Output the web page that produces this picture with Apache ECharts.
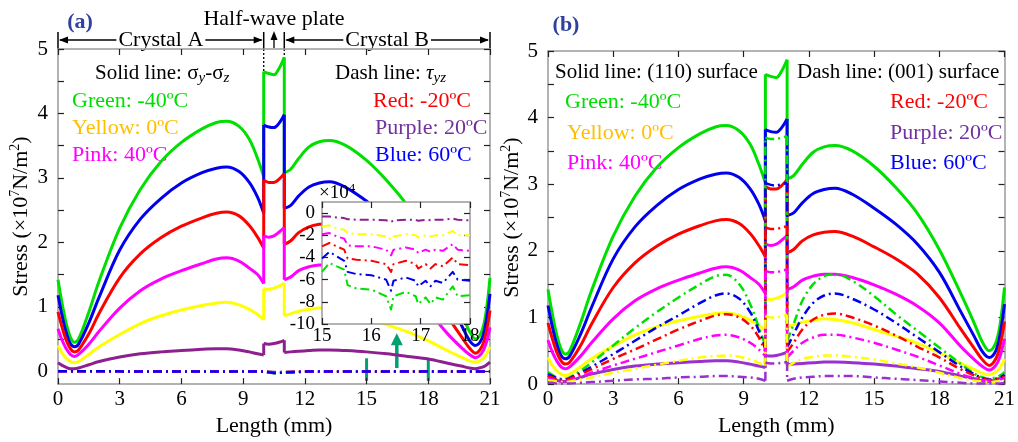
<!DOCTYPE html>
<html><head><meta charset="utf-8">
<script src="https://cdn.jsdelivr.net/npm/echarts@6/dist/echarts.min.js"></script>
<style>html,body{margin:0;padding:0;background:#fff}#c{width:1018px;height:442px}</style>
</head><body><div id="c"></div>
<script>
// ---------- DATA ----------
const X = [0,0.2,0.4,0.6,0.8,1.0,1.5,2,3,4,5,6,7,7.7,8.2,8.8,9.3,9.7,10, 10,10.25,10.5,10.75,11, 11,11.3,11.7,12.2,12.7,13.2,14,15,16,17,18,19,19.6,20.0,20.3,20.6,20.8,21];
// solid lines (sigma_y - sigma_z / (110) surface), x10^7 N/m^2
const sGreen  = [1.42,1.05,0.74,0.53,0.45,0.5,0.92,1.4,2.22,2.82,3.25,3.55,3.76,3.86,3.88,3.8,3.6,3.3,3.02, 4.65,4.62,4.6,4.7,4.87, 3.08,3.13,3.3,3.48,3.56,3.58,3.5,3.27,2.95,2.56,2.02,1.35,0.92,0.62,0.5,0.62,0.9,1.45];
const sBlue   = [1.18,0.86,0.6,0.43,0.38,0.42,0.75,1.15,1.88,2.36,2.68,2.92,3.08,3.15,3.17,3.1,2.93,2.7,2.45, 3.82,3.79,3.78,3.85,3.98, 2.53,2.57,2.72,2.86,2.92,2.94,2.85,2.64,2.4,2.1,1.68,1.08,0.72,0.48,0.4,0.5,0.75,1.2];
const sRed    = [0.92,0.68,0.48,0.35,0.3,0.33,0.58,0.9,1.45,1.82,2.07,2.25,2.38,2.45,2.47,2.41,2.26,2.08,1.91, 2.97,2.93,2.93,2.98,3.07, 1.97,2.02,2.15,2.24,2.28,2.29,2.22,2.06,1.88,1.65,1.3,0.82,0.54,0.36,0.28,0.38,0.58,0.94];
const sPink   = [0.66,0.48,0.35,0.26,0.23,0.26,0.42,0.62,0.98,1.25,1.43,1.56,1.67,1.74,1.76,1.71,1.6,1.5,1.36, 2.1,2.08,2.1,2.16,2.23, 1.42,1.46,1.56,1.62,1.65,1.65,1.6,1.49,1.35,1.17,0.92,0.56,0.37,0.26,0.21,0.28,0.42,0.68];
const sYellow = [0.4,0.28,0.2,0.15,0.13,0.15,0.26,0.38,0.57,0.74,0.86,0.95,1.02,1.06,1.07,1.03,0.96,0.88,0.8, 1.28,1.27,1.29,1.32,1.37, 0.86,0.89,0.93,0.96,0.98,0.97,0.92,0.82,0.72,0.61,0.47,0.31,0.22,0.16,0.14,0.18,0.25,0.38];
const sPurple = [0.13,0.09,0.06,0.04,0.04,0.05,0.1,0.15,0.22,0.27,0.3,0.32,0.34,0.35,0.35,0.33,0.3,0.27,0.25, 0.43,0.42,0.43,0.45,0.48, 0.29,0.3,0.31,0.32,0.33,0.33,0.32,0.3,0.27,0.23,0.19,0.12,0.08,0.05,0.04,0.06,0.09,0.14];
// dashed lines in (b): (001) surface
const dGreen  = [0.18,0.14,0.1,0.08,0.08,0.1,0.2,0.32,0.58,0.84,1.08,1.3,1.5,1.62,1.64,1.5,1.2,0.85,0.58, 3.7,3.68,3.68,3.7,3.72, 0.65,0.9,1.25,1.5,1.62,1.65,1.55,1.32,1.05,0.8,0.55,0.3,0.16,0.1,0.08,0.1,0.13,0.18];
const dBlue   = [0.15,0.12,0.09,0.07,0.07,0.09,0.17,0.26,0.45,0.65,0.85,1.03,1.22,1.33,1.36,1.28,1.08,0.8,0.52, 3.02,2.99,2.98,3.0,3.02, 0.55,0.75,1.0,1.22,1.33,1.36,1.28,1.12,0.92,0.7,0.48,0.26,0.15,0.09,0.07,0.08,0.1,0.14];
const dRed    = [0.12,0.1,0.07,0.06,0.06,0.08,0.15,0.22,0.38,0.52,0.67,0.82,0.95,1.03,1.05,1.0,0.88,0.7,0.48, 2.35,2.33,2.33,2.35,2.37, 0.48,0.62,0.82,0.97,1.04,1.06,1.0,0.88,0.73,0.56,0.4,0.22,0.13,0.08,0.06,0.07,0.09,0.11];
const dPink   = [0.09,0.07,0.05,0.04,0.04,0.06,0.11,0.17,0.28,0.38,0.48,0.58,0.68,0.73,0.74,0.7,0.62,0.52,0.42, 1.7,1.68,1.68,1.7,1.72, 0.4,0.5,0.62,0.7,0.74,0.74,0.7,0.62,0.52,0.41,0.28,0.15,0.09,0.06,0.05,0.06,0.07,0.09];
const dYellow = [0.06,0.05,0.04,0.03,0.03,0.04,0.07,0.1,0.17,0.23,0.29,0.35,0.4,0.42,0.43,0.41,0.37,0.32,0.26, 1.02,1.0,1.0,1.02,1.04, 0.26,0.32,0.38,0.41,0.43,0.43,0.41,0.37,0.31,0.25,0.17,0.09,0.05,0.04,0.03,0.04,0.05,0.06];
const dPurple = [0.02,0.02,0.01,0.01,0.01,0.01,0.02,0.03,0.05,0.07,0.08,0.1,0.11,0.12,0.12,0.11,0.1,0.08,0.05, 0.32,0.31,0.31,0.32,0.33, 0.05,0.08,0.1,0.11,0.12,0.12,0.12,0.1,0.08,0.06,0.04,0.02,0.01,0.01,0.01,0.01,0.01,0.02];
// tau_yz in (a), x10^7 N/m^2 (tiny)
const TX = [0,2,5,8,10,10,10.5,11,11,12,15,18,21];
const tGreen  = [0,-0.003,-0.005,-0.007,-0.008,-0.022,-0.03,-0.024,-0.009,-0.008,-0.008,-0.008,-0.005];
const tRed    = [0,-0.003,-0.004,-0.006,-0.007,-0.021,-0.029,-0.023,-0.008,-0.007,-0.007,-0.007,-0.005];
const tYellow = [0,-0.001,-0.002,-0.003,-0.004,-0.015,-0.02,-0.016,-0.005,-0.004,-0.004,-0.004,-0.002];
const tPurple = [0,0,-0.001,-0.001,-0.002,-0.01,-0.012,-0.01,-0.002,-0.002,-0.001,-0.001,-0.001];
const tPink   = [0,-0.002,-0.003,-0.004,-0.005,-0.018,-0.024,-0.019,-0.006,-0.005,-0.005,-0.005,-0.003];
const tBlue   = [0,-0.002,-0.004,-0.005,-0.006,-0.02,-0.028,-0.022,-0.008,-0.006,-0.006,-0.006,-0.004];
// inset: tau_yz, x10^4 N/m^2, 15-18 mm
const IX = [15.0,15.15,15.3,15.45,15.52,15.7,16.0,16.3,16.4,16.45,16.7,16.9,16.95,17.1,17.2,17.3,17.45,17.65,17.75,18.0];
const iPurple = [-0.3,-0.3,-0.4,-0.45,-0.55,-0.6,-0.6,-0.65,-0.8,-0.65,-0.6,-0.6,-0.7,-0.6,-0.65,-0.6,-0.6,-0.5,-0.6,-0.65];
const iYellow = [-1.2,-1.1,-1.4,-1.5,-1.8,-1.9,-1.9,-2.1,-2.4,-2.1,-1.9,-2.0,-2.2,-2.0,-2.1,-2.0,-2.0,-1.6,-2.0,-2.0];
const iPink   = [-1.9,-1.8,-2.1,-2.3,-2.9,-3.0,-3.0,-3.3,-3.8,-3.3,-3.1,-3.3,-3.6,-3.3,-3.5,-3.3,-3.4,-2.8,-3.3,-3.4];
const iRed    = [-3.0,-2.7,-3.0,-3.3,-4.1,-4.2,-4.3,-4.6,-5.3,-4.6,-4.3,-4.6,-5.0,-4.6,-5.0,-4.6,-4.8,-4.0,-4.6,-4.7];
const iBlue   = [-4.1,-3.5,-3.9,-4.3,-5.3,-5.5,-5.6,-6.0,-7.0,-6.1,-5.8,-6.1,-6.6,-6.1,-6.6,-6.1,-6.3,-5.3,-6.0,-6.1];
const iGreen  = [-5.3,-4.5,-4.8,-5.1,-6.5,-6.8,-6.9,-7.5,-8.7,-7.5,-7.1,-7.5,-8.2,-7.6,-8.2,-7.6,-7.8,-6.6,-7.5,-7.4];
// tick labels
const xTicks = [0,3,6,9,12,15,18,21];
const yLabels = [0,1,2,3,4,5];
const yMinor = [0,0.5,1,1.5,2,2.5,3,3.5,4,4.5,5];
const insetYLabels = [-10,-8,-6,-4,-2,0];
const markX = [15, 18];
const arrowX = 16.47;

// ---------- STYLE ----------
const FONT = '"Liberation Serif","Times New Roman",serif';
const COL = {green:'#00e000', blue:'#0000ee', red:'#ff0000', pink:'#ff00ff', yellow:'#ffff00', purpleA:'#8e1f8e', purpleB:'#9b30d0'};
const DASH = [9,4,2,4];
const pairs = (xs, ys) => xs.map((x,i)=>[x, ys[i]]);
// break indices: end of crystal A part and end of half-wave-plate part
const BREAK_A = 18, BREAK_H = 23;
function pieces(xs, ys) {
  const out = [];
  xs.forEach((x,i)=>{ out.push([x, ys[i]]); if (i===BREAK_A || i===BREAK_H) out.push([x, null]); });
  return out;
}
function jumps(xs, ys) {
  return [[xs[BREAK_A], ys[BREAK_A]], [xs[BREAK_A+1], ys[BREAK_A+1]], [xs[BREAK_A+1], null],
          [xs[BREAK_H], ys[BREAK_H]], [xs[BREAK_H+1], ys[BREAK_H+1]]];
}

function xAx(grid, pos, show, min, max, interval, fs, margin, zl) {
  return {gridIndex:grid, type:'value', position:pos, min, max, interval, zlevel:zl||0,
    axisLine:{show:true, onZero:false, lineStyle:{color:'#9a9a9a', width:1.5}},
    axisTick:{show:true, inside:true, length:6, lineStyle:{color:'#222', width:1.2}},
    axisLabel:{show:show, fontFamily:FONT, fontSize:fs, color:'#000', margin},
    splitLine:{show:false}};
}
function yAx(grid, pos, show, min, max, labels, ticks, fs, margin, zl) {
  return {gridIndex:grid, type:'value', position:pos, min, max, zlevel:zl||0,
    axisLine:{show:true, onZero:false, lineStyle:{color:'#9a9a9a', width:1.5}},
    axisTick:{show:true, inside:true, length:6, customValues:ticks, lineStyle:{color:'#222', width:1.2}},
    axisLabel:{show:show, customValues:labels, fontFamily:FONT, fontSize:fs, color:'#000', margin},
    splitLine:{show:false}};
}
const yName = '{b|Stress (×10}{sup|7}{b|N/m}{sup|2}{b|)}';
const yNameStyle = {fontFamily:FONT, fontSize:22, color:'#000',
  rich:{b:{fontFamily:FONT, fontSize:22, lineHeight:26, verticalAlign:'middle'}, sup:{fontFamily:FONT, fontSize:14, lineHeight:14, verticalAlign:'top'}}};

const xAxis = [
  Object.assign(xAx(0,'bottom',true,0,21,3,21,5), {name:'Length (mm)', nameLocation:'middle', nameGap:20, nameTextStyle:{fontFamily:FONT, fontSize:22, color:'#000'}}),
  xAx(0,'top',false,0,21,3,21,5),
  Object.assign(xAx(1,'bottom',true,0,21,3,21,5), {name:'Length (mm)', nameLocation:'middle', nameGap:20, nameTextStyle:{fontFamily:FONT, fontSize:22, color:'#000'}}),
  xAx(1,'top',false,0,21,3,21,5),
  xAx(2,'bottom',true,15,18,1,19,3,1),
  xAx(2,'top',false,15,18,1,19,3,1)
];
const yAxis = [
  Object.assign(yAx(0,'left',true,-0.2,5,yLabels,yMinor,21,10), {name:yName, nameLocation:'middle', nameRotate:90, nameGap:24, nameTextStyle:yNameStyle}),
  yAx(0,'right',false,-0.2,5,yLabels,yMinor,21,10),
  Object.assign(yAx(1,'left',true,0,5,yLabels,yMinor,21,10), {name:yName, nameLocation:'middle', nameRotate:90, nameGap:17, nameTextStyle:yNameStyle}),
  yAx(1,'right',false,0,5,yLabels,yMinor,21,10),
  yAx(2,'left',true,-10,1,insetYLabels,insetYLabels,19,7,1),
  yAx(2,'right',false,-10,1,insetYLabels,insetYLabels,19,7,1)
];

function ser(xi, yi, data, color, dashed, width, smooth, zl) {
  return {type:'line', xAxisIndex:xi, yAxisIndex:yi, data, showSymbol:false, symbol:'none',
    silent:true, animation:false, zlevel:zl||0, clip:true, smooth:smooth||false, connectNulls:false,
    lineStyle:{color, width, type: dashed ? DASH : 'solid', cap:'butt', join:'round'}};
}

const series = [];
function profile(xi, yi, ys, color, dashed, width) {
  series.push(ser(xi, yi, pieces(X, ys), color, dashed, width, 0.35));
  series.push(ser(xi, yi, jumps(X, ys), color, dashed, width, false));
}
// (a) solid
[[sGreen,COL.green],[sBlue,COL.blue],[sRed,COL.red],[sPink,COL.pink],[sYellow,COL.yellow],[sPurple,COL.purpleA]]
  .forEach(([d,c])=>profile(0,0,d,c,false,3));
// (a) dashed tau
[[tGreen,COL.green],[tRed,COL.red],[tYellow,COL.yellow],[tPurple,COL.purpleA],[tPink,COL.pink],[tBlue,COL.blue]]
  .forEach(([d,c])=>series.push(ser(0,0,pairs(TX,d),c,true,2.5,false)));
// (b) solid
[[sGreen,COL.green],[sBlue,COL.blue],[sRed,COL.red],[sPink,COL.pink],[sYellow,COL.yellow],[sPurple,COL.purpleB]]
  .forEach(([d,c])=>profile(2,2,d,c,false,3));
// (b) dashed
[[dGreen,COL.green],[dBlue,COL.blue],[dRed,COL.red],[dPink,COL.pink],[dYellow,COL.yellow],[dPurple,COL.purpleB]]
  .forEach(([d,c])=>profile(2,2,d,c,true,2.5));
// inset
[[iPurple,COL.purpleA],[iYellow,COL.yellow],[iPink,COL.pink],[iRed,COL.red],[iBlue,COL.blue],[iGreen,COL.green]]
  .forEach(([d,c])=>series.push(ser(4,4,pairs(IX,d),c,true,2,false,1)));

const option = {
  animation:false,
  backgroundColor:'#fff',
  grid:[
    {left:58, top:49, width:432, height:344, containLabel:false},
    {left:548, top:51, width:460, height:342, containLabel:false},
    {left:322, top:202, width:148, height:122, show:true, backgroundColor:'#fff', borderWidth:0, zlevel:1}
  ],
  xAxis, yAxis, series
};

const chart = echarts.init(document.getElementById('c'), null, {renderer:'canvas'});
chart.setOption(option);

// ---------- ANNOTATIONS ----------
const P = (x,y)=>chart.convertToPixel({xAxisIndex:0, yAxisIndex:0},[x,y]);
const g = [];
const seg = (x1,y1,x2,y2,st)=>({type:'line', silent:true, shape:{x1,y1,x2,y2}, style:Object.assign({stroke:'#000', lineWidth:1.3}, st||{})});
const tri = (pts,fill)=>({type:'polygon', silent:true, shape:{points:pts}, style:{fill:fill||'#000'}});
const txt = (x,y,text,st,zl)=>({type:'text', silent:true, x, y, zlevel:zl||0, style:Object.assign({text, fontFamily:FONT, fontSize:22, fill:'#000', align:'left', verticalAlign:'middle'}, st||{})});

const yTop = P(0,5)[1];
const yArr = 40;
const xa0 = P(0,0)[0], xa10 = P(10,0)[0], xa105 = P(10.5,0)[0], xa11 = P(11,0)[0], xa21 = P(21,0)[0];
[xa0, xa10, xa11, xa21].forEach(x=>g.push(seg(x, 32, x, yTop, {lineWidth:1.5})));
g.push(seg(xa0+2, yArr, xa10-2, yArr));
g.push(tri([[xa0+1,yArr],[xa0+10,yArr-3.5],[xa0+10,yArr+3.5]]));
g.push(tri([[xa10-1,yArr],[xa10-10,yArr-3.5],[xa10-10,yArr+3.5]]));
g.push(seg(xa11+2, yArr, xa21-2, yArr));
g.push(tri([[xa11+1,yArr],[xa11+10,yArr-3.5],[xa11+10,yArr+3.5]]));
g.push(tri([[xa21-1,yArr],[xa21-10,yArr-3.5],[xa21-10,yArr+3.5]]));
g.push(txt((xa0+xa10)/2, yArr, 'Crystal A', {align:'center', backgroundColor:'#fff', padding:[0,2]}));
g.push(txt((xa11+xa21)/2, yArr, 'Crystal B', {align:'center', backgroundColor:'#fff', padding:[0,2]}));
g.push(seg(xa105, yTop-1, xa105, 38));
g.push(tri([[xa105,31],[xa105-3.5,40],[xa105+3.5,40]]));
g.push(txt(xa105, 19, 'Half-wave plate', {align:'center'}));
g.push(seg(xa10, yTop, xa10, P(10, sGreen[BREAK_A+1])[1], {lineDash:[2,2], lineWidth:1.3}));
g.push(seg(xa11, yTop, xa11, P(11, sGreen[BREAK_H])[1], {lineDash:[2,2], lineWidth:1.3}));
markX.forEach(mx=>{ const a=P(mx,0.2), b=P(mx,-0.15); g.push(seg(a[0],a[1],b[0],b[1],{stroke:'#00a070', lineWidth:3})); });
{ const a=P(arrowX,0.05), b=P(arrowX,0.42); g.push(seg(a[0],a[1],b[0],b[1],{stroke:'#00a070', lineWidth:3.5}));
  g.push(tri([[b[0],b[1]-11],[b[0]-6,b[1]+1],[b[0]+6,b[1]+1]],'#00a070')); }

g.push(txt(80, 22, '(a)', {align:'center', fontWeight:'bold', fill:'#3040a0'}));
g.push(txt(566, 25, '(b)', {align:'center', fontWeight:'bold', fill:'#3040a0'}));

const richLeg = {n:{fontFamily:FONT, fontSize:21, lineHeight:26, verticalAlign:'middle'},
  s:{fontFamily:FONT, fontSize:15, lineHeight:15, fontStyle:'italic', verticalAlign:'bottom'},
  t:{fontFamily:FONT, fontSize:21, lineHeight:26, fontStyle:'italic', verticalAlign:'middle'}};
g.push(txt(95, 73, '{n|Solid line: σ}{s|y}{n|-σ}{s|z}', {rich:richLeg}));
g.push(txt(335, 73, '{n|Dash line: }{t|τ}{s|yz}', {rich:richLeg}));
const legA = [[72,101,'Green: -40ºC','#00dd00'],[72,128,'Yellow: 0ºC','#ffbf00'],[72,155,'Pink: 40ºC','#ff00ff'],
              [373,101,'Red: -20ºC','#ff0000'],[375,128,'Purple: 20ºC','#7030a0'],[375,155,'Blue: 60ºC','#0000ff']];
legA.forEach(([x,y,t,c])=>g.push(txt(x,y,t,{fill:c})));
g.push(txt(555, 72, 'Solid line: (110) surface', {fontSize:21}));
g.push(txt(797, 72, 'Dash line: (001) surface', {fontSize:21}));
const legB = [[565,102,'Green: -40ºC','#00dd00'],[567,133,'Yellow: 0ºC','#ffbf00'],[567,163,'Pink: 40ºC','#ff00ff'],
              [890,102,'Red: -20ºC','#ff0000'],[890,133,'Purple: 20ºC','#7030a0'],[890,163,'Blue: 60ºC','#0000ff']];
legB.forEach(([x,y,t,c])=>g.push(txt(x,y,t,{fill:c})));
g.push(txt(319, 193, '{b|×10}{p|4}', {rich:{b:{fontFamily:FONT, fontSize:19, lineHeight:22, verticalAlign:'middle'}, p:{fontFamily:FONT, fontSize:13, lineHeight:13, verticalAlign:'top'}}}, 1));

chart.setOption({graphic:g});
</script>
</body></html>
